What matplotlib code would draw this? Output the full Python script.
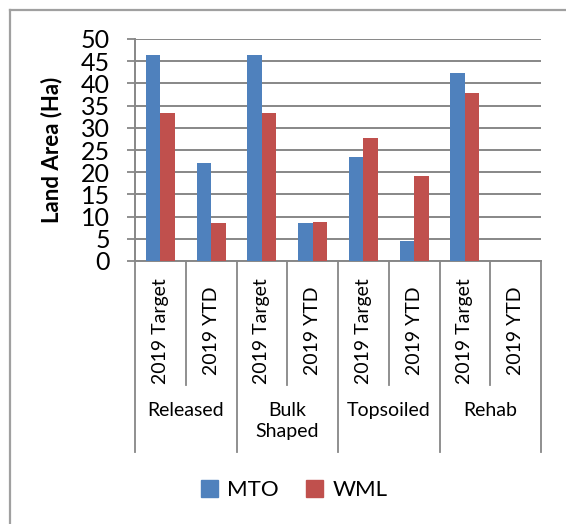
import matplotlib
matplotlib.use("Agg")
import matplotlib.pyplot as plt
from matplotlib.lines import Line2D
from matplotlib.patches import Patch

# dados
grupos = ["Released", "Bulk\nShaped", "Topsoiled", "Rehab"]
periodos = ["2019 Target", "2019 YTD"]
mto = [46.5, 22.0, 46.5, 8.5, 23.5, 4.4, 42.4, 0.1]
wml = [33.3, 8.5, 33.3, 8.8, 27.8, 19.2, 37.8, 0.0]
y_ticks = [0, 5, 10, 15, 20, 25, 30, 35, 40, 45, 50]

cor_mto = "#4F81BD"
cor_wml = "#C0504D"
cinza = "#878787"
fonte = "Lato"

W, H = 566, 524
fig = plt.figure(figsize=(W / 100, H / 100), dpi=100)
ax = fig.add_axes([135 / W, 1 - 261 / H, (541 - 135) / W, (261 - 39) / H])

n = len(mto)
xs = list(range(n))
larg = 0.285
ax.bar([x - larg / 2 for x in xs], mto, width=larg, color=cor_mto, zorder=3)
ax.bar([x + larg / 2 for x in xs], wml, width=larg, color=cor_wml, zorder=3)

ax.set_xlim(-0.5, n - 0.5)
ax.set_ylim(0, 50)
ax.set_yticks(y_ticks)
ax.set_yticklabels([str(v) for v in y_ticks], fontsize=18, family=fonte)
ax.tick_params(axis="y", length=6, width=1.3, color=cinza, pad=12)
ax.set_xticks([])
ax.grid(axis="y", color=cinza, lw=1.4, zorder=0)
for s in ["top", "right"]:
    ax.spines[s].set_visible(False)
for s in ["left", "bottom"]:
    ax.spines[s].set_color(cinza)
    ax.spines[s].set_linewidth(1.4)

ax.set_ylabel("Land Area (Ha)", fontsize=16, fontweight="bold", family=fonte)
ax.yaxis.set_label_coords(-(135 - 62) / 406, 0.5)

# eixo de categorias em dois níveis
tr = ax.get_xaxis_transform()
y_int = -(385 - 261) / 222
y_ext = -(452 - 261) / 222
for i in range(n + 1):
    b = i - 0.5
    yb = y_ext if i % 2 == 0 else y_int
    ax.plot([b, b], [0, yb], color=cinza, lw=1.3, transform=tr, clip_on=False)
for i in range(n):
    ax.text(i, -(331 - 261) / 222, periodos[i % 2], rotation=90, ha="center", va="center",
            fontsize=14, family=fonte, transform=tr)
for g, nome in enumerate(grupos):
    ax.text(2 * g + 0.5, -(402 - 261) / 222, nome, ha="center", va="top", fontsize=14,
            family=fonte, transform=tr, linespacing=1.3)

# legenda
handles = [Patch(color=cor_mto, label="MTO"), Patch(color=cor_wml, label="WML")]
fig.legend(handles=handles, loc="center", bbox_to_anchor=(294 / W, 1 - 490 / H), ncol=2,
           frameon=False, prop={"family": fonte, "size": 16}, handlelength=0.8,
           handleheight=0.8, handletextpad=0.4, columnspacing=1.2)

# moldura (só esquerda e topo aparecem)
fig.add_artist(Line2D([9.5 / W, 9.5 / W], [0, 1 - 10 / H], color="#A0A0A0", lw=1.6))
fig.add_artist(Line2D([9.5 / W, 1], [1 - 10 / H, 1 - 10 / H], color="#A0A0A0", lw=1.6))

fig.savefig("out.png", dpi=100)
